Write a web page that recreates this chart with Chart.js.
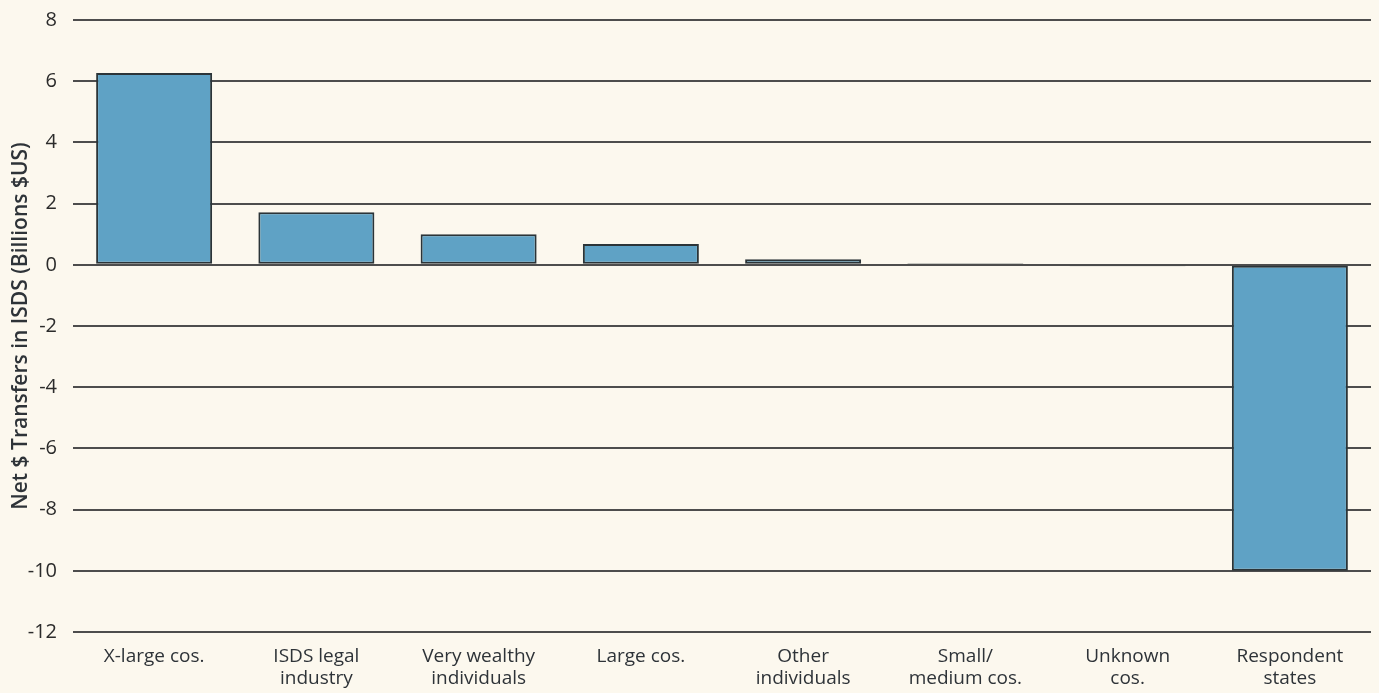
<!DOCTYPE html>
<html>
<head>
<meta charset="utf-8">
<script src="https://cdn.jsdelivr.net/npm/chart.js@4"></script>
<style>
  html, body { margin: 0; padding: 0; background: #fcf8ee; }
  #wrap { width: 1379px; height: 693px; }
</style>
</head>
<body>
<div id="wrap"><canvas id="isdsChart" width="1379" height="693"></canvas></div>
<script>
const categories = [
  "X-large cos.",
  ["ISDS legal", "industry"],
  ["Very wealthy", "individuals"],
  "Large cos.",
  ["Other", "individuals"],
  ["Small/", "medium cos."],
  ["Unknown", "cos."],
  ["Respondent", "states"]
];
const netTransfers = [6.27, 1.72, 1.0, 0.68, 0.18, 0.05, -0.05, -10.0];
const yTicks = [8, 6, 4, 2, 0, -2, -4, -6, -8, -10, -12];

const ctx = document.getElementById("isdsChart").getContext("2d");
new Chart(ctx, {
  type: "bar",
  data: {
    labels: categories,
    datasets: [
      {
        data: netTransfers,
        backgroundColor: "#5fa2c5",
        borderColor: "#2b3438",
        borderWidth: 2,
        borderSkipped: false,
        categoryPercentage: 1,
        barPercentage: 0.715
      }
    ]
  },
  options: {
    responsive: false,
    animation: false,
    layout: { padding: { top: 20, right: 8, bottom: 0, left: 0 } },
    plugins: { legend: { display: false }, tooltip: { enabled: false } },
    scales: {
      x: {
        grid: { display: false },
        border: { display: false },
        ticks: {
          color: "#2e3338",
          font: { family: "Open Sans", size: 19, weight: "500", lineHeight: 1.15 },
          maxRotation: 0,
          autoSkip: false,
          padding: 6
        },
        afterFit: (scale) => { scale.height = 61; }
      },
      y: {
        min: -12,
        max: 8,
        afterBuildTicks: (scale) => {
          scale.ticks = yTicks.map((v) => ({ value: v }));
        },
        grid: { color: "#4d4d4d", lineWidth: 2, drawTicks: false },
        border: { display: false },
        ticks: {
          color: "#2b2b2b",
          font: { family: "Open Sans", size: 20, weight: "500" },
          padding: 16
        },
        title: {
          display: true,
          text: "Net $ Transfers in ISDS (Billions $US)",
          color: "#2e3338",
          font: { family: "Open Sans", size: 21, weight: "600" },
          padding: { top: 8, bottom: 0 }
        },
        afterFit: (scale) => {
          scale.width = 73;
          scale.paddingTop = 0;
          scale.paddingBottom = 0;
        }
      }
    }
  }
});
</script>
</body>
</html>
